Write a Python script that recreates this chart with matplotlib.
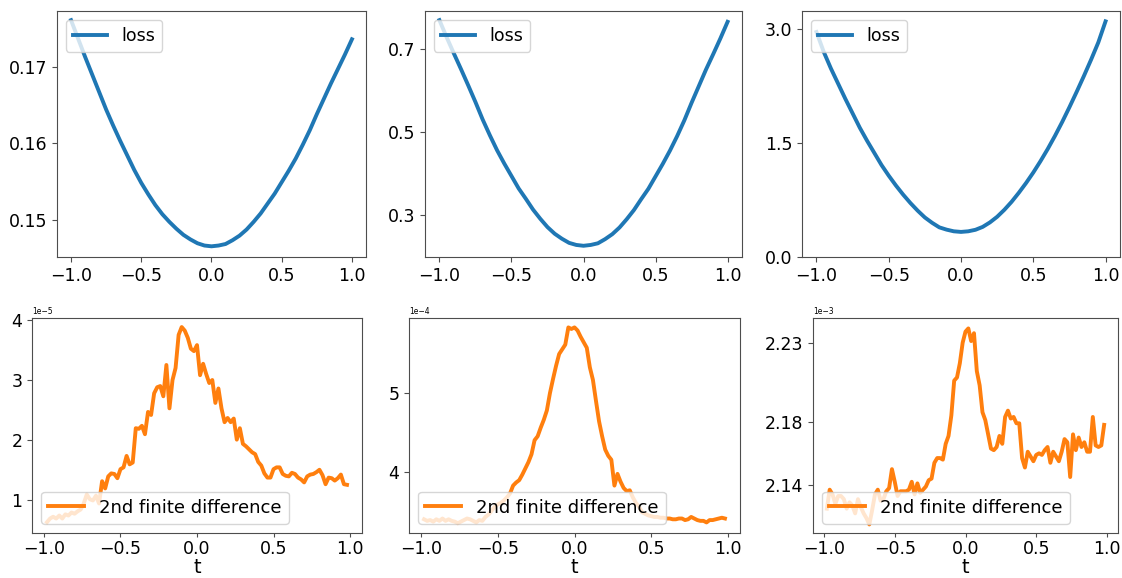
"""
loss along a direction t (top row) and its 2nd finite difference (bottom row),
three models side by side.
"""
import numpy as np
import matplotlib
matplotlib.use("Agg")
import matplotlib.pyplot as plt

# --- data ---
t_loss = np.linspace(-1.0, 1.0, 41)
loss_a = [0.1761, 0.1737, 0.1713, 0.1690, 0.1667, 0.1644, 0.1623, 0.1603, 0.1584, 0.1565,
          0.1548, 0.1533, 0.1519, 0.1507, 0.1497, 0.1488, 0.1480, 0.1474, 0.1469, 0.1466,
          0.1465, 0.1466, 0.1468, 0.1473, 0.1479, 0.1487, 0.1497, 0.1508, 0.1521, 0.1534,
          0.1549, 0.1564, 0.1580, 0.1598, 0.1617, 0.1638, 0.1658, 0.1678, 0.1697, 0.1716, 0.1736]
loss_b = [0.770, 0.729, 0.690, 0.652, 0.613, 0.573, 0.531, 0.493, 0.457, 0.425,
          0.395, 0.365, 0.340, 0.314, 0.292, 0.272, 0.256, 0.244, 0.234, 0.229,
          0.227, 0.229, 0.233, 0.243, 0.255, 0.271, 0.291, 0.313, 0.339, 0.364,
          0.394, 0.424, 0.456, 0.491, 0.529, 0.571, 0.611, 0.651, 0.688, 0.726, 0.766]
loss_c = [2.96, 2.70, 2.48, 2.28, 2.08, 1.89, 1.70, 1.53, 1.37, 1.21,
          1.07, 0.94, 0.82, 0.71, 0.61, 0.52, 0.45, 0.39, 0.36, 0.338,
          0.330, 0.338, 0.358, 0.396, 0.455, 0.529, 0.621, 0.726, 0.845, 0.973,
          1.111, 1.261, 1.421, 1.593, 1.776, 1.970, 2.172, 2.380, 2.596, 2.823, 3.10]

t_fd = np.linspace(-0.98, 0.98, 99)
# units of 1e-5
fd_a = [0.64, 0.70, 0.73, 0.70, 0.75, 0.70, 0.77, 0.75, 0.80, 0.78,
        0.82, 0.85, 0.95, 1.10, 1.02, 1.00, 1.08, 0.95, 1.32, 1.20,
        1.40, 1.45, 1.44, 1.37, 1.52, 1.55, 1.74, 1.60, 1.63, 2.20,
        2.19, 2.24, 2.10, 2.47, 2.42, 2.78, 2.88, 2.90, 2.73, 3.25,
        2.53, 3.00, 3.20, 3.75, 3.88, 3.82, 3.70, 3.52, 3.48, 3.58,
        3.08, 3.27, 3.10, 2.95, 3.00, 2.62, 2.86, 2.53, 2.30, 2.37,
        2.30, 2.36, 2.01, 2.20, 1.94, 1.90, 1.85, 1.80, 1.77, 1.64,
        1.58, 1.45, 1.38, 1.38, 1.52, 1.55, 1.55, 1.44, 1.41, 1.40,
        1.46, 1.44, 1.38, 1.35, 1.30, 1.40, 1.43, 1.44, 1.47, 1.51,
        1.42, 1.27, 1.38, 1.37, 1.33, 1.37, 1.43, 1.27, 1.26]
# units of 1e-4
fd_b = [3.39, 3.37, 3.38, 3.36, 3.39, 3.37, 3.40, 3.37, 3.39, 3.37,
        3.36, 3.34, 3.36, 3.38, 3.40, 3.39, 3.37, 3.35, 3.38, 3.37,
        3.42, 3.45, 3.50, 3.55, 3.58, 3.60, 3.63, 3.67, 3.72, 3.82,
        3.86, 3.89, 3.96, 4.04, 4.12, 4.22, 4.40, 4.45, 4.56, 4.66,
        4.78, 5.00, 5.18, 5.35, 5.50, 5.56, 5.62, 5.84, 5.82, 5.84,
        5.80, 5.72, 5.65, 5.58, 5.33, 5.17, 4.90, 4.64, 4.45, 4.28,
        4.20, 4.15, 3.82, 3.97, 3.87, 3.79, 3.75, 3.76, 3.67, 3.60,
        3.55, 3.48, 3.46, 3.44, 3.43, 3.42, 3.42, 3.41, 3.41, 3.40,
        3.40, 3.39, 3.39, 3.40, 3.40, 3.38, 3.39, 3.42, 3.40, 3.38,
        3.37, 3.37, 3.35, 3.38, 3.38, 3.39, 3.40, 3.41, 3.40]
# units of 1e-3
fd_c = [2.125, 2.137, 2.134, 2.128, 2.133, 2.133, 2.131, 2.125, 2.129, 2.127,
        2.122, 2.131, 2.126, 2.122, 2.119, 2.115, 2.124, 2.134, 2.137, 2.130,
        2.131, 2.136, 2.138, 2.150, 2.142, 2.133, 2.136, 2.136, 2.136, 2.137,
        2.142, 2.134, 2.141, 2.135, 2.137, 2.139, 2.143, 2.144, 2.154, 2.157,
        2.157, 2.156, 2.166, 2.171, 2.184, 2.206, 2.208, 2.217, 2.230, 2.237,
        2.239, 2.231, 2.236, 2.212, 2.203, 2.186, 2.181, 2.172, 2.163, 2.162,
        2.164, 2.171, 2.166, 2.183, 2.187, 2.182, 2.183, 2.179, 2.179, 2.157,
        2.151, 2.161, 2.158, 2.155, 2.159, 2.160, 2.159, 2.162, 2.164, 2.154,
        2.161, 2.158, 2.155, 2.161, 2.169, 2.167, 2.145, 2.172, 2.162, 2.170,
        2.164, 2.167, 2.161, 2.161, 2.183, 2.165, 2.164, 2.165, 2.178]

loss_yticks = [[0.15, 0.16, 0.17], [0.3, 0.5, 0.7], [0.0, 1.5, 3.0]]
loss_ylims = [(0.1451, 0.1773), (0.200, 0.792), (0.0, 3.236)]
fd_scale = [1e-5, 1e-4, 1e-3]
fd_yticks = [[1, 2, 3, 4], [4, 5], [2.14, 2.18, 2.23]]
fd_ylims = [(0.46, 4.03), (3.215, 5.96), (2.1096, 2.2456)]

W, H = 1122, 578
# axes boxes in pixels: left, top, right, bottom
top_boxes = [(57, 11, 366, 257), (425, 11, 742, 257), (802, 11, 1120, 257)]
bot_boxes = [(32, 318, 362, 533), (409, 318, 740, 533), (813, 318, 1118, 533)]

BLUE, ORANGE = "#1f77b4", "#ff7f0e"
TICK_FS = 12.5


def add_ax(fig, box):
    l, t, r, b = box
    ax = fig.add_axes([l / W, 1 - b / H, (r - l) / W, (b - t) / H])
    for s in ax.spines.values():
        s.set_edgecolor("0.3")
    ax.tick_params(labelsize=TICK_FS, color="0.3")
    return ax


def main():
    fig = plt.figure(figsize=(W / 100, H / 100), dpi=100)

    for i, y in enumerate([loss_a, loss_b, loss_c]):
        ax = add_ax(fig, top_boxes[i])
        ax.plot(t_loss, y, color=BLUE, lw=2.8, label="loss")
        ax.set_yticks(loss_yticks[i])
        ax.set_ylim(*loss_ylims[i])
        ax.set_xticks([-1.0, -0.5, 0.0, 0.5, 1.0])
        ax.legend(loc="upper left", fontsize=12.5)

    for i, y in enumerate([fd_a, fd_b, fd_c]):
        ax = add_ax(fig, bot_boxes[i])
        sc = fd_scale[i]
        ax.plot(t_fd, np.array(y) * sc, color=ORANGE, lw=2.8, label="2nd finite difference")
        ax.set_yticks(np.array(fd_yticks[i]) * sc)
        ax.set_ylim(fd_ylims[i][0] * sc, fd_ylims[i][1] * sc)
        ax.ticklabel_format(axis="y", style="sci", scilimits=(0, 0), useOffset=False)
        ax.yaxis.get_offset_text().set_fontsize(5.5)
        ax.set_xticks([-1.0, -0.5, 0.0, 0.5, 1.0])
        ax.tick_params(axis="x", pad=2, length=3)
        ax.set_xlabel("t", fontsize=14, labelpad=0)
        ax.legend(loc="lower left", fontsize=13)

    fig.savefig("out.png", dpi=100)


if __name__ == "__main__":
    main()
